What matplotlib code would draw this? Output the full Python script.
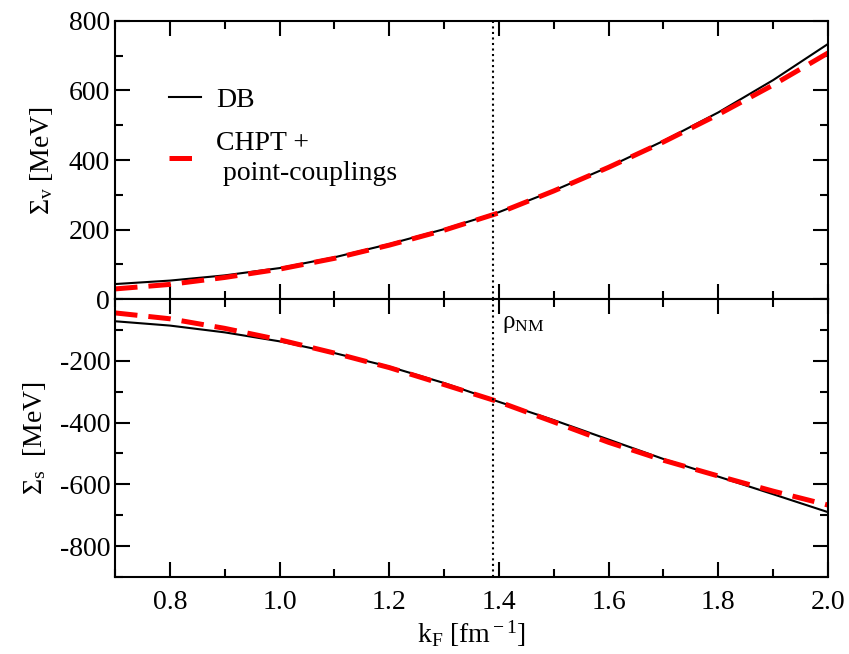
import numpy as np
import matplotlib
matplotlib.use("Agg")
import matplotlib.pyplot as plt
from matplotlib.ticker import MultipleLocator

plt.rcParams['font.family'] = 'Liberation Serif'
plt.rcParams['mathtext.fontset'] = 'custom'
plt.rcParams['mathtext.rm'] = 'Liberation Serif'
plt.rcParams['mathtext.it'] = 'Liberation Serif:italic'
plt.rcParams['mathtext.default'] = 'rm'
plt.rcParams['axes.unicode_minus'] = False

# k_F values (fm^-1)
kf = [0.7, 0.8, 0.9, 1.0, 1.1, 1.2, 1.3, 1.4, 1.5, 1.6, 1.7, 1.8, 1.9, 2.0]

# vector self-energy (MeV)
sv_db = [43, 53, 68, 89, 120, 158, 201, 250, 312, 380, 455, 537, 630, 734]
sv_chpt = [29, 42, 62, 86, 117, 155, 198, 248, 311, 379, 452, 531, 616, 708]

# scalar self-energy (MeV)
ss_db = [-72, -86, -108, -137, -175, -219, -272, -333, -392, -455, -518, -575, -632, -690]
ss_chpt = [-45, -64, -95, -132, -175, -222, -277, -333, -398, -464, -522, -573, -622, -667]

k_nm = 1.39

fig = plt.figure(figsize=(8.49, 6.54), dpi=100)
ax1 = fig.add_axes([0.1355, 0.5428, 0.8398, 0.4251])
ax2 = fig.add_axes([0.1355, 0.1177, 0.8398, 0.4251], sharex=ax1)

dash = (4.5, 2.2)
ax1.plot(kf, sv_db, color='black', lw=1.5, label='DB')
ax1.plot(kf, sv_chpt, color='red', lw=3.6, dashes=dash, label='CHPT +\n point-couplings')
ax2.plot(kf, ss_db, color='black', lw=1.5)
ax2.plot(kf, ss_chpt, color='red', lw=3.6, dashes=dash)

for ax in (ax1, ax2):
    ax.axvline(k_nm, color='black', ls=':', lw=1.5)
    ax.set_xlim(0.7, 2.0)
    ax.xaxis.set_major_locator(MultipleLocator(0.2))
    ax.xaxis.set_minor_locator(MultipleLocator(0.1))
    ax.yaxis.set_major_locator(MultipleLocator(200))
    ax.yaxis.set_minor_locator(MultipleLocator(100))
    ax.tick_params(which='both', direction='in', top=True, right=True,
                   width=1.5, labelsize=20)
    ax.tick_params(which='major', length=11)
    ax.tick_params(which='minor', length=6)
    ax.tick_params(axis='x', pad=9)
    for sp in ax.spines.values():
        sp.set_linewidth(1.5)

ax1.set_ylim(0, 800)
ax2.set_ylim(-900, 0)
ax1.tick_params(labelbottom=False)
ax2.set_xticks([0.8, 1.0, 1.2, 1.4, 1.6, 1.8, 2.0])
ax2.set_xticklabels(['0.8', '1.0', '1.2', '1.4', '1.6', '1.8', '2.0'])
ax2.set_yticks([-800, -600, -400, -200])

ax1.set_ylabel(r'$\Sigma_{\rm v}$ [MeV]', fontsize=20, labelpad=10)
ax2.set_ylabel(r'$\Sigma_{\rm s}$  [MeV]', fontsize=20, labelpad=8)
ax2.set_xlabel(r'$\rm k_F$ [fm$^{\rm -1}$]', fontsize=20, labelpad=3)

ax2.text(1.405, -80, r'$\rho_{\rm NM}$', fontsize=18, ha='left', va='center')

leg = ax1.legend(loc='upper left', bbox_to_anchor=(0.04, 0.85), frameon=False,
                 fontsize=20, handlelength=1.15, handletextpad=0.55, labelspacing=0.65)
for t in leg.get_texts():
    t.set_linespacing(1.25)

fig.savefig('out.png', dpi=100)
